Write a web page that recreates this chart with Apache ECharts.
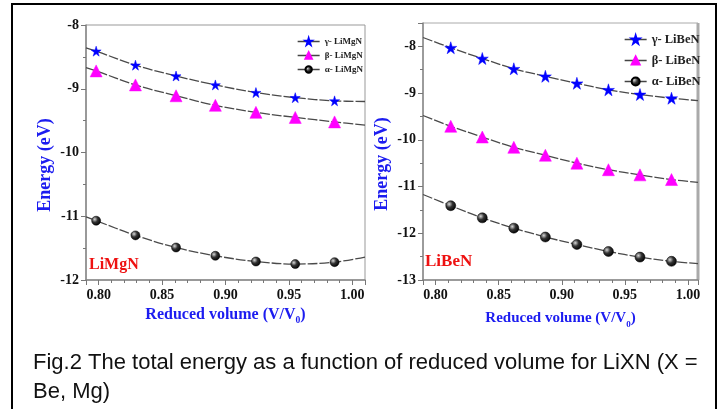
<!DOCTYPE html>
<html>
<head>
<meta charset="utf-8">
<script src="https://cdn.jsdelivr.net/npm/echarts@6/dist/echarts.min.js"></script>
<style>
  html, body { margin: 0; padding: 0; background: #fff; }
  #chart { width: 722px; height: 409px; }
</style>
</head>
<body>
<div id="chart"></div>
<script>
// LiMgN (left panel)
var mgVol = [0.798, 0.829, 0.861, 0.892, 0.924, 0.955, 0.986];
var mgGamma = [-8.41, -8.63, -8.80, -8.94, -9.06, -9.14, -9.19];
var mgBeta = [-8.72, -8.94, -9.11, -9.26, -9.37, -9.45, -9.52];
var mgAlpha = [-11.07, -11.30, -11.49, -11.62, -11.71, -11.75, -11.72];
// where the fitted curves meet the plot edges
var mgEdgeVol = [0.79, 1.01];
var mgGammaEdge = [-8.36, -9.20];
var mgBetaEdge = [-8.67, -9.57];
var mgAlphaEdge = [-11.01, -11.64];

// LiBeN (right panel)
var beVol = [0.812, 0.837, 0.862, 0.887, 0.912, 0.937, 0.962, 0.987];
var beGamma = [-8.03, -8.26, -8.48, -8.64, -8.79, -8.93, -9.03, -9.11];
var beBeta = [-9.71, -9.94, -10.16, -10.33, -10.50, -10.64, -10.75, -10.85];
var beAlpha = [-11.41, -11.67, -11.89, -12.08, -12.24, -12.39, -12.51, -12.60];
var beEdgeVol = [0.79, 1.008];
var beGammaEdge = [-7.81, -9.16];
var beBetaEdge = [-9.48, -10.91];
var beAlphaEdge = [-11.17, -12.65];

var mgNames = ['γ- LiMgN', 'β- LiMgN', 'α- LiMgN'];
var beNames = ['γ- LiBeN', 'β- LiBeN', 'α- LiBeN'];

var STAR = 'path://M50,0 L61,35 L98,35 L68,57 L79,91 L50,70 L21,91 L32,57 L2,35 L39,35 Z';
var SERIF = '"Liberation Serif", "Times New Roman", serif';
var BLUE = '#1c1cf0';

var sphere = {
  type: 'radial', x: 0.35, y: 0.35, r: 0.7,
  colorStops: [{ offset: 0, color: '#d8d8d8' }, { offset: 0.45, color: '#333' }, { offset: 1, color: '#000' }]
};

// points plus the curve ends (no marker on the ends)
function curve(vol, vals, edgeVol, edgeVals) {
  var d = [{ value: [edgeVol[0], edgeVals[0]], symbol: 'none' }];
  for (var i = 0; i < vol.length; i++) d.push([vol[i], vals[i]]);
  d.push({ value: [edgeVol[1], edgeVals[1]], symbol: 'none' });
  return d;
}

function makeSeries(name, idx, data, symbol, size, color) {
  return {
    name: name,
    type: 'line',
    xAxisIndex: idx,
    yAxisIndex: idx,
    smooth: 0.35,
    data: data,
    symbol: symbol,
    symbolSize: size,
    itemStyle: { color: color, borderColor: color === sphere ? '#000' : color, borderWidth: 0.5 },
    lineStyle: { color: '#4a4a4a', width: 1.3, type: [10, 2] },
    z: 3
  };
}

function xAxisCfg(idx, min, max, fs, gap) {
  return {
    type: 'value', gridIndex: idx, min: min, max: max, splitNumber: 5,
    name: 'Reduced volume (V/V{sub|0})',
    nameLocation: 'middle', nameGap: gap,
    nameTextStyle: {
      fontFamily: SERIF, fontWeight: 'bold', fontSize: fs, color: BLUE,
      rich: { sub: { fontFamily: SERIF, fontWeight: 'bold', fontSize: fs * 0.6, color: BLUE, verticalAlign: 'bottom', padding: [12, 0, 0, 0] } }
    },
    axisLine: { lineStyle: { color: '#888', width: 1.5 } },
    axisTick: { inside: false, length: 5, lineStyle: { color: '#777' } },
    minorTick: { show: true, splitNumber: 5, length: 3, lineStyle: { color: '#777' } },
    splitLine: { show: false },
    axisLabel: {
      showMinLabel: false, showMaxLabel: false, margin: 8,
      fontFamily: SERIF, fontWeight: 'bold', fontSize: 14, color: '#111',
      formatter: function (v) { return v.toFixed(2); }
    }
  };
}

function yAxisCfg(idx, min, max) {
  return {
    type: 'value', gridIndex: idx, min: min, max: max, interval: 1,
    axisLine: { show: true, lineStyle: { color: '#888', width: 1.5 } },
    axisTick: { show: true, inside: false, length: 5, lineStyle: { color: '#777' } },
    minorTick: { show: true, splitNumber: 2, length: 3, lineStyle: { color: '#777' } },
    splitLine: { show: false },
    axisLabel: {
      showMaxLabel: idx === 0, margin: 7,
      fontFamily: SERIF, fontWeight: 'bold', fontSize: 14, color: '#111'
    }
  };
}

var myChart = echarts.init(document.getElementById('chart'));

var option = {
  animation: false,
  backgroundColor: '#fff',
  grid: [
    { left: 86, top: 25, width: 279, height: 255, show: true, borderColor: '#999', borderWidth: 1 },
    { left: 423, top: 23, width: 275, height: 257, show: true, borderColor: '#aaa', borderWidth: 1 }
  ],
  xAxis: [xAxisCfg(0, 0.79, 1.01, 16, 24), xAxisCfg(1, 0.79, 1.008, 15, 28)],
  yAxis: [yAxisCfg(0, -12, -8), yAxisCfg(1, -13, -7.5)],
  legend: [
    {
      data: mgNames, orient: 'vertical', left: 292, top: 32,
      itemWidth: 22, itemHeight: 8, itemGap: 5,
      lineStyle: { color: '#444', width: 1.3 },
      textStyle: { fontFamily: SERIF, fontWeight: 'bold', fontSize: 9, color: '#222' }
    },
    {
      data: beNames, orient: 'vertical', left: 619, top: 28,
      itemWidth: 22, itemHeight: 10, itemGap: 8,
      lineStyle: { color: '#444', width: 1.3 },
      textStyle: { fontFamily: SERIF, fontWeight: 'bold', fontSize: 12.5, color: '#222' }
    }
  ],
  series: [
    makeSeries(mgNames[0], 0, curve(mgVol, mgGamma, mgEdgeVol, mgGammaEdge), STAR, 10, '#0000ff'),
    makeSeries(mgNames[1], 0, curve(mgVol, mgBeta, mgEdgeVol, mgBetaEdge), 'triangle', 12, '#ff00ff'),
    makeSeries(mgNames[2], 0, curve(mgVol, mgAlpha, mgEdgeVol, mgAlphaEdge), 'circle', 9, sphere),
    makeSeries(beNames[0], 1, curve(beVol, beGamma, beEdgeVol, beGammaEdge), STAR, 12, '#0000ff'),
    makeSeries(beNames[1], 1, curve(beVol, beBeta, beEdgeVol, beBetaEdge), 'triangle', 12, '#ff00ff'),
    makeSeries(beNames[2], 1, curve(beVol, beAlpha, beEdgeVol, beAlphaEdge), 'circle', 10, sphere)
  ],
  graphic: [
    // outer frame
    { type: 'rect', shape: { x: 12, y: 4, width: 704, height: 430 }, style: { fill: null, stroke: '#000', lineWidth: 2 }, silent: true },
    // thick right edge of the LiBeN frame
    { type: 'line', shape: { x1: 698, y1: 23, x2: 698, y2: 280 }, style: { stroke: '#aaa', lineWidth: 3 }, silent: true },
    {
      type: 'text', x: 45, y: 165, rotation: Math.PI / 2,
      style: { text: 'Energy (eV)', fill: BLUE, font: 'bold 18px ' + SERIF, align: 'center', verticalAlign: 'middle' }
    },
    {
      type: 'text', x: 382, y: 164, rotation: Math.PI / 2,
      style: { text: 'Energy (eV)', fill: BLUE, font: 'bold 18px ' + SERIF, align: 'center', verticalAlign: 'middle' }
    },
    {
      type: 'text', x: 89, y: 265,
      style: { text: 'LiMgN', fill: '#ee1111', font: 'bold 16px ' + SERIF, verticalAlign: 'middle' }
    },
    {
      type: 'text', x: 425, y: 262,
      style: { text: 'LiBeN', fill: '#ee1111', font: 'bold 17px ' + SERIF, verticalAlign: 'middle' }
    },
    {
      type: 'text', x: 33, y: 348,
      style: {
        text: 'Fig.2 The total energy as a function of reduced volume for LiXN (X =\nBe, Mg)',
        fill: '#111', font: '22px "Liberation Sans", Arial, sans-serif', lineHeight: 29
      }
    }
  ]
};

myChart.setOption(option);
window.addEventListener('resize', function () { myChart.resize(); });
</script>
</body>
</html>
